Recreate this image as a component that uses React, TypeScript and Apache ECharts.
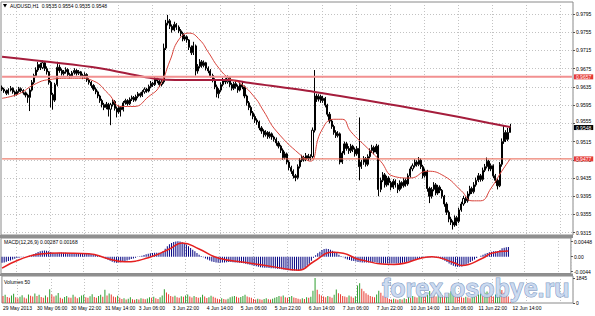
import React, { useEffect, useRef } from 'react';
import * as echarts from 'echarts';

const SYMBOL_TITLE = 'AUDUSD,H1  0.9535 0.9554 0.9535 0.9548';
const MACD_TITLE = 'MACD(12,26,9) 0.00287 0.00168';
const VOLUME_TITLE = 'Volumes 50';
const WATERMARK = 'forex.osobye.ru';

const TIME_LABELS = [
  '29 May 2013', '30 May 06:00', '30 May 22:00', '31 May 14:00', '3 Jun 06:00', '3 Jun 22:00',
  '4 Jun 14:00', '5 Jun 06:00', '5 Jun 22:00', '6 Jun 14:00', '7 Jun 06:00', '7 Jun 22:00',
  '10 Jun 14:00', '11 Jun 06:00', '11 Jun 22:00', '12 Jun 14:00',
];
const BARS_PER_LABEL = 16;
const SLOT_COUNT = 269;

const PRICE_TICKS = [0.9315, 0.9355, 0.9395, 0.9435, 0.9475, 0.9515, 0.9555, 0.9595, 0.9635, 0.9675, 0.9715, 0.9755, 0.9795];
const LEVELS = [0.9657, 0.9477];
const LAST_PRICE = 0.9548;
const MACD_TICKS = [0.00448, 0, -0.0044];
const MACD_TICK_TEXT = ['0.00448', '0.00', '-0.0044'];
const VOLUME_TICKS = [1845, 0];

// hourly candles, prices in 1e-4 units (9634 = 0.9634)
const OPEN = [
  9634, 9630, 9626, 9621, 9628, 9632, 9624, 9619, 9625, 9631,
  9627, 9622, 9617, 9612, 9628, 9645, 9660, 9672, 9684, 9677,
  9688, 9675, 9668, 9645, 9618, 9606, 9640, 9678, 9671, 9664,
  9668, 9673, 9662, 9659, 9666, 9671, 9665, 9668, 9660, 9657,
  9662, 9650, 9645, 9638, 9630, 9624, 9615, 9605, 9596, 9590,
  9597, 9586, 9596, 9603, 9588, 9580, 9590, 9585, 9600, 9605,
  9598, 9608, 9612, 9606, 9614, 9620, 9616, 9624, 9630, 9626,
  9636, 9643, 9640, 9652, 9648, 9640, 9646, 9720, 9775, 9780,
  9768, 9760, 9772, 9766, 9758, 9752, 9740, 9745, 9738, 9722,
  9710, 9725, 9670, 9680, 9690, 9682, 9688, 9676, 9670, 9660,
  9650, 9635, 9620, 9628, 9640, 9650, 9646, 9655, 9640, 9632,
  9642, 9636, 9628, 9640, 9635, 9615, 9600, 9590, 9578, 9570,
  9562, 9558, 9545, 9538, 9530, 9535, 9526, 9532, 9525, 9520,
  9512, 9505, 9496, 9480, 9488, 9470, 9458, 9450, 9440, 9436,
  9460, 9474, 9480, 9476, 9484, 9478, 9482, 9540, 9615, 9608,
  9614, 9605, 9610, 9595, 9575, 9560, 9548, 9535, 9528, 9532,
  9470, 9490, 9510, 9500, 9495, 9505, 9498, 9488, 9500, 9460,
  9470, 9478, 9465, 9482, 9495, 9502, 9492, 9505, 9410, 9430,
  9442, 9420, 9435, 9425, 9415, 9428, 9420, 9410, 9425, 9418,
  9430, 9422, 9440, 9455, 9462, 9470, 9465, 9474, 9460, 9440,
  9450, 9412, 9395, 9410, 9420, 9402, 9415, 9408, 9395, 9378,
  9360, 9345, 9338, 9332, 9348, 9340, 9365, 9378, 9390, 9385,
  9400, 9412, 9405, 9420, 9430, 9440, 9432, 9452, 9460, 9472,
  9455, 9462, 9440, 9430, 9418, 9465, 9515, 9535, 9520, 9535,
];
const CLOSE = [
  9630, 9626, 9621, 9628, 9632, 9624, 9619, 9625, 9631, 9627,
  9622, 9617, 9612, 9628, 9645, 9660, 9672, 9684, 9677, 9688,
  9675, 9668, 9645, 9618, 9606, 9640, 9678, 9671, 9664, 9668,
  9673, 9662, 9659, 9666, 9671, 9665, 9668, 9660, 9657, 9662,
  9650, 9645, 9638, 9630, 9624, 9615, 9605, 9596, 9590, 9597,
  9586, 9596, 9603, 9588, 9580, 9590, 9585, 9600, 9605, 9598,
  9608, 9612, 9606, 9614, 9620, 9616, 9624, 9630, 9626, 9636,
  9643, 9640, 9652, 9648, 9640, 9646, 9720, 9775, 9780, 9768,
  9760, 9772, 9766, 9758, 9752, 9740, 9745, 9738, 9722, 9710,
  9725, 9670, 9680, 9690, 9682, 9688, 9676, 9670, 9660, 9650,
  9635, 9620, 9628, 9640, 9650, 9646, 9655, 9640, 9632, 9642,
  9636, 9628, 9640, 9635, 9615, 9600, 9590, 9578, 9570, 9562,
  9558, 9545, 9538, 9530, 9535, 9526, 9532, 9525, 9520, 9512,
  9505, 9496, 9480, 9488, 9470, 9458, 9450, 9440, 9436, 9460,
  9474, 9480, 9476, 9484, 9478, 9482, 9540, 9615, 9608, 9614,
  9605, 9610, 9595, 9575, 9560, 9548, 9535, 9528, 9532, 9470,
  9490, 9510, 9500, 9495, 9505, 9498, 9488, 9500, 9460, 9470,
  9478, 9465, 9482, 9495, 9502, 9492, 9505, 9410, 9430, 9442,
  9420, 9435, 9425, 9415, 9428, 9420, 9410, 9425, 9418, 9430,
  9422, 9440, 9455, 9462, 9470, 9465, 9474, 9460, 9440, 9450,
  9412, 9395, 9410, 9420, 9402, 9415, 9408, 9395, 9378, 9360,
  9345, 9338, 9332, 9348, 9340, 9365, 9378, 9390, 9385, 9400,
  9412, 9405, 9420, 9430, 9440, 9432, 9452, 9460, 9472, 9455,
  9462, 9440, 9430, 9418, 9465, 9515, 9535, 9520, 9535, 9548,
];
const HIGH = [
  9638, 9633, 9629, 9632, 9637, 9634, 9627, 9629, 9635, 9634,
  9630, 9625, 9620, 9632, 9650, 9664, 9678, 9690, 9688, 9693,
  9690, 9680, 9670, 9648, 9622, 9644, 9690, 9684, 9675, 9672,
  9678, 9676, 9666, 9670, 9676, 9674, 9672, 9670, 9664, 9667,
  9665, 9654, 9648, 9641, 9634, 9627, 9618, 9609, 9600, 9602,
  9600, 9600, 9608, 9606, 9592, 9594, 9593, 9604, 9609, 9608,
  9612, 9616, 9615, 9618, 9624, 9623, 9628, 9634, 9633, 9640,
  9648, 9646, 9657, 9655, 9651, 9650, 9730, 9782, 9793, 9784,
  9772, 9778, 9775, 9770, 9762, 9756, 9750, 9748, 9740, 9726,
  9734, 9728, 9685, 9696, 9694, 9693, 9690, 9680, 9674, 9664,
  9654, 9640, 9632, 9645, 9655, 9654, 9660, 9658, 9644, 9646,
  9648, 9640, 9645, 9648, 9638, 9618, 9604, 9594, 9582, 9575,
  9566, 9561, 9549, 9542, 9540, 9538, 9537, 9535, 9528, 9524,
  9516, 9508, 9500, 9493, 9491, 9474, 9462, 9454, 9444, 9465,
  9479, 9486, 9484, 9490, 9488, 9487, 9546, 9672, 9620, 9619,
  9618, 9615, 9613, 9598, 9580, 9564, 9552, 9540, 9538, 9535,
  9494, 9515, 9514, 9505, 9510, 9508, 9502, 9505, 9568, 9475,
  9483, 9481, 9487, 9500, 9508, 9506, 9510, 9508, 9436, 9448,
  9446, 9440, 9439, 9429, 9433, 9432, 9424, 9430, 9428, 9435,
  9434, 9445, 9460, 9467, 9476, 9474, 9481, 9478, 9464, 9456,
  9453, 9416, 9415, 9426, 9424, 9420, 9419, 9411, 9398, 9382,
  9364, 9350, 9342, 9353, 9352, 9370, 9383, 9396, 9394, 9406,
  9418, 9416, 9426, 9436, 9446, 9444, 9458, 9466, 9480, 9475,
  9467, 9465, 9444, 9434, 9470, 9522, 9550, 9540, 9545, 9554,
];
const LOW = [
  9626, 9622, 9617, 9618, 9625, 9620, 9614, 9616, 9622, 9623,
  9618, 9612, 9600, 9582, 9625, 9641, 9656, 9668, 9672, 9674,
  9670, 9662, 9640, 9590, 9585, 9602, 9636, 9666, 9660, 9660,
  9664, 9658, 9654, 9656, 9662, 9660, 9661, 9656, 9652, 9653,
  9646, 9640, 9633, 9626, 9619, 9610, 9600, 9590, 9584, 9586,
  9570, 9551, 9592, 9583, 9568, 9576, 9570, 9581, 9596, 9594,
  9595, 9604, 9602, 9603, 9610, 9612, 9613, 9620, 9622, 9623,
  9632, 9635, 9637, 9643, 9635, 9636, 9642, 9716, 9770, 9762,
  9754, 9757, 9760, 9753, 9746, 9735, 9736, 9732, 9716, 9705,
  9705, 9660, 9664, 9676, 9677, 9678, 9671, 9665, 9655, 9645,
  9630, 9612, 9610, 9624, 9636, 9641, 9642, 9635, 9627, 9628,
  9631, 9622, 9625, 9630, 9610, 9594, 9584, 9572, 9564, 9556,
  9552, 9540, 9532, 9524, 9526, 9521, 9522, 9519, 9515, 9506,
  9500, 9490, 9475, 9476, 9465, 9452, 9444, 9434, 9428, 9432,
  9456, 9470, 9471, 9472, 9473, 9474, 9478, 9535, 9602, 9603,
  9600, 9600, 9590, 9570, 9555, 9543, 9530, 9523, 9524, 9465,
  9466, 9486, 9495, 9488, 9490, 9492, 9482, 9484, 9430, 9455,
  9464, 9460, 9461, 9478, 9490, 9487, 9488, 9395, 9404, 9426,
  9414, 9416, 9419, 9408, 9411, 9414, 9402, 9406, 9412, 9414,
  9416, 9418, 9436, 9450, 9458, 9460, 9461, 9455, 9434, 9436,
  9405, 9380, 9390, 9406, 9397, 9398, 9402, 9390, 9372, 9354,
  9338, 9332, 9322, 9328, 9330, 9336, 9361, 9374, 9380, 9381,
  9396, 9400, 9401, 9416, 9426, 9427, 9428, 9448, 9456, 9450,
  9450, 9435, 9424, 9410, 9415, 9460, 9510, 9514, 9516, 9535,
];

// moving averages: [bar index, price in 1e-4 units]
const MA_SLOW = [
  [0, 9701], [46, 9676], [74, 9652], [93, 9650], [107, 9650], [116, 9644],
  [147, 9624], [187, 9593], [215, 9569], [229, 9556], [239, 9547],
];
const MA_FAST = [
  [0, 9610], [8, 9620], [15, 9640], [22, 9651], [32, 9654], [36, 9654], [43, 9648],
  [50, 9620], [56, 9592], [62, 9592], [69, 9614], [74, 9636], [79, 9693], [83, 9738],
  [88, 9753], [93, 9738], [97, 9711], [102, 9676], [107, 9653], [112, 9643], [119, 9611],
  [123, 9582], [129, 9538], [142, 9479], [145, 9472], [150, 9537], [156, 9564], [160, 9564],
  [164, 9537], [172, 9500], [178, 9472], [184, 9439], [192, 9435], [200, 9450], [208, 9439],
  [216, 9407], [221, 9385], [225, 9385], [230, 9413], [235, 9450], [239, 9477],
];

// MACD main histogram, 1e-5 units
const MACD_MAIN = [
  -180, -170, -150, -130, -110, -80, -60, -40, -30, -20,
  -10, 0, 10, 30, 50, 80, 110, 140, 160, 175,
  185, 180, 165, 140, 115, 100, 110, 120, 125, 120,
  115, 110, 110, 105, 100, 105, 110, 108, 105, 100,
  95, 90, 80, 70, 55, 40, 20, 0, -30, -60,
  -90, -120, -150, -170, -180, -175, -165, -150, -130, -110,
  -90, -70, -50, -30, -10, 10, 30, 50, 70, 90,
  100, 110, 120, 120, 115, 110, 160, 240, 310, 370,
  410, 440, 455, 460, 450, 430, 400, 360, 310, 260,
  210, 160, 110, 60, 20, -20, -50, -80, -110, -140,
  -160, -175, -180, -180, -175, -170, -165, -160, -160, -165,
  -170, -175, -180, -185, -195, -210, -225, -240, -255, -270,
  -285, -300, -310, -320, -325, -330, -335, -340, -345, -350,
  -355, -360, -370, -380, -390, -400, -405, -410, -412, -410,
  -405, -390, -360, -320, -270, -210, -120, -30, 40, 100,
  150, 200, 230, 240, 230, 210, 180, 150, 110, 60,
  20, -20, -50, -80, -100, -120, -130, -140, -155, -165,
  -170, -175, -175, -170, -165, -160, -160, -180, -195, -200,
  -205, -205, -205, -205, -200, -200, -200, -195, -190, -180,
  -170, -160, -145, -125, -105, -85, -65, -50, -40, -30,
  -30, -30, -25, -20, -20, -25, -35, -50, -80, -120,
  -160, -200, -240, -270, -290, -300, -300, -290, -270, -240,
  -200, -160, -120, -80, -40, 0, 30, 60, 90, 110,
  130, 150, 160, 160, 170, 200, 250, 265, 280, 287,
];
// MACD signal line: [bar index, value in 1e-5 units]
const MACD_SIGNAL = [
  [0, -340], [8, -90], [17, 70], [27, 110], [41, 90], [50, -60], [58, -150], [69, -30],
  [79, 230], [85, 410], [93, 230], [102, -40], [116, -180], [129, -310], [140, -400],
  [147, -150], [156, 130], [161, 100], [169, -90], [185, -230], [203, 0], [213, -170],
  [217, -260], [227, -40], [231, 100], [239, 168],
];

const VOLUME = [
  520, 610, 450, 380, 560, 690, 420, 350, 470, 580,
  400, 330, 620, 540, 480, 700, 520, 610, 450, 380,
  560, 430, 1010, 620, 480, 560, 740, 380, 320, 450,
  520, 410, 380, 600, 470, 350, 420, 560, 610, 430,
  380, 500, 640, 450, 390, 520, 600, 470, 980, 560,
  700, 620, 480, 420, 540, 380, 300, 350, 260, 310,
  420, 280, 240, 300, 260, 350, 310, 280, 340, 420,
  380, 460, 350, 300, 420, 560, 1020, 780, 640, 520,
  460, 540, 420, 380, 500, 460, 560, 620, 480, 400,
  520, 450, 380, 430, 600, 480, 360, 420, 540, 460,
  390, 310, 280, 350, 300, 260, 320, 420, 480, 520,
  460, 380, 440, 520, 600, 480, 420, 380, 300, 260,
  320, 280, 240, 300, 350, 280, 260, 320, 380, 450,
  520, 480, 560, 420, 380, 450, 520, 400, 360, 320,
  280, 350, 300, 420, 380, 460, 900, 1845, 980, 640,
  560, 480, 420, 520, 460, 380, 600, 1000, 720, 640,
  520, 480, 420, 560, 480, 380, 500, 1300, 1460, 1050,
  860, 720, 600, 520, 460, 420, 620, 900, 760, 540,
  420, 360, 300, 260, 320, 280, 240, 300, 260, 350,
  300, 420, 380, 520, 460, 400, 560, 640, 520, 450,
  600, 880, 720, 560, 480, 620, 760, 540, 480, 560,
  720, 860, 1120, 700, 560, 480, 420, 380, 460, 400,
  350, 420, 560, 480, 620, 700, 520, 760, 840, 620,
  560, 480, 620, 700, 1020, 960, 760, 560, 480, 50,
];

const FONT = '"Liberation Sans", Arial, sans-serif';
const GRID_LINE = { color: '#c2c2c2', type: [1, 2] as any, width: 1 };
const X_GRID_OFFSET = 7;

function levelSeries(value: number, lineColor: string, width: number, boxColor: string, hideLine = false) {
  return {
    type: 'line',
    xAxisIndex: 0,
    yAxisIndex: 0,
    data: [[0, value], [SLOT_COUNT - 1, value]],
    showSymbol: false,
    silent: true,
    lineStyle: { color: lineColor, width, opacity: hideLine ? 0 : 1 },
    endLabel: {
      show: true,
      distance: 2,
      offset: hideLine ? [0, 1] : [0, 0],
      formatter: () => value.toFixed(4),
      backgroundColor: boxColor,
      color: '#fff',
      fontSize: 5,
      lineHeight: 4,
      fontFamily: FONT,
      padding: [1, 2, 0, 2],
    },
    z: 5,
  };
}

function buildOption() {
  const cats = Array.from({ length: SLOT_COUNT }, (_, i) => String(i));
  const candles = OPEN.map((o, i) => [o / 1e4, CLOSE[i] / 1e4, LOW[i] / 1e4, HIGH[i] / 1e4]);
  const volData = VOLUME.map((v, i) => ({
    value: v,
    itemStyle: { color: i > 0 && v > VOLUME[i - 1] ? '#2f9e2f' : '#e8392f' },
  }));
  const grids = [
    { left: 1, top: 2, width: 572, height: 233 },
    { left: 1, top: 238, width: 572, height: 35.5 },
    { left: 1, top: 276, width: 572, height: 27 },
  ].map((g) => ({ ...g, show: true, borderColor: '#8a8a8a', borderWidth: 1, backgroundColor: '#fff' }));

  const xAxes = [0, 1, 2].map((g) => ({
    type: 'category',
    gridIndex: g,
    data: cats,
    boundaryGap: true,
    axisLine: { show: false },
    axisTick: { show: false },
    axisLabel:
      g === 2
        ? {
            show: true,
            interval: (i: number) => i % BARS_PER_LABEL === 0 && i / BARS_PER_LABEL < TIME_LABELS.length,
            formatter: (_v: string, i: number) => TIME_LABELS[i / BARS_PER_LABEL] ?? '',
            align: 'left',
            fontSize: 5,
            lineHeight: 4,
            fontFamily: FONT,
            color: '#000',
            margin: 3,
          }
        : { show: false },
    splitLine: {
      show: true,
      interval: (i: number) => i % BARS_PER_LABEL === X_GRID_OFFSET,
      lineStyle: GRID_LINE,
    },
  }));

  const labelBase = { fontSize: 5, lineHeight: 4, fontFamily: FONT, color: '#000', margin: 3 };
  const yAxes = [
    {
      type: 'value',
      gridIndex: 0,
      position: 'right',
      min: 0.931,
      max: 0.98213,
      axisLine: { show: false },
      axisTick: { show: true, customValues: PRICE_TICKS, length: 2, lineStyle: { color: '#555' } },
      axisLabel: {
        ...labelBase,
        customValues: PRICE_TICKS,
        // the tick just above the last-price box is nudged up half a line so both stay legible
        formatter: (v: number) => (v > LAST_PRICE && v - LAST_PRICE < 0.001 ? `${v.toFixed(4)}\n` : v.toFixed(4)),
      },
      splitLine: { show: true, lineStyle: GRID_LINE },
    },
    {
      type: 'value',
      gridIndex: 1,
      position: 'right',
      min: -0.004994,
      max: 0.005559,
      axisLine: { show: false },
      axisTick: { show: true, customValues: MACD_TICKS, length: 2, lineStyle: { color: '#555' } },
      axisLabel: {
        ...labelBase,
        customValues: MACD_TICKS,
        formatter: (v: number) => {
          const k = MACD_TICKS.findIndex((t) => Math.abs(t - v) < 1e-7);
          return k >= 0 ? MACD_TICK_TEXT[k] : '';
        },
      },
      splitLine: { show: false },
    },
    {
      type: 'value',
      gridIndex: 2,
      position: 'right',
      min: 0,
      max: 1993,
      axisLine: { show: false },
      axisTick: { show: true, customValues: VOLUME_TICKS, length: 2, lineStyle: { color: '#555' } },
      axisLabel: { ...labelBase, customValues: VOLUME_TICKS, formatter: (v: number) => String(v) },
      splitLine: { show: false },
    },
  ];

  return {
    animation: false,
    backgroundColor: '#ffffff',
    textStyle: { fontFamily: FONT },
    grid: grids,
    xAxis: xAxes,
    yAxis: yAxes,
    series: [
      levelSeries(LEVELS[0], '#f29090', 2, '#e53935'),
      levelSeries(LEVELS[1], '#e8604c', 1, '#e53935'),
      {
        type: 'candlestick',
        xAxisIndex: 0,
        yAxisIndex: 0,
        data: candles,
        barWidth: 1.6,
        itemStyle: { color: '#ffffff', color0: '#000000', borderColor: '#000', borderColor0: '#000', borderWidth: 1 },
        z: 3,
      },
      {
        type: 'line',
        xAxisIndex: 0,
        yAxisIndex: 0,
        data: MA_SLOW.map(([i, v]) => [i, v / 1e4]),
        showSymbol: false,
        smooth: 0.3,
        lineStyle: { color: '#a51d3c', width: 2 },
        z: 4,
      },
      {
        type: 'line',
        xAxisIndex: 0,
        yAxisIndex: 0,
        data: MA_FAST.map(([i, v]) => [i, v / 1e4]),
        showSymbol: false,
        smooth: 0.5,
        lineStyle: { color: '#d8443c', width: 1 },
        z: 4,
      },
      levelSeries(LAST_PRICE, '#000', 0, '#000000', true),
      {
        type: 'bar',
        xAxisIndex: 1,
        yAxisIndex: 1,
        data: MACD_MAIN.map((v) => v / 1e5),
        barWidth: 1,
        itemStyle: { color: '#000080' },
      },
      {
        type: 'line',
        xAxisIndex: 1,
        yAxisIndex: 1,
        data: MACD_SIGNAL.map(([i, v]) => [i, v / 1e5]),
        showSymbol: false,
        smooth: 0.5,
        lineStyle: { color: '#e52020', width: 1.5 },
        z: 3,
      },
      {
        type: 'bar',
        xAxisIndex: 2,
        yAxisIndex: 2,
        data: volData,
        barWidth: 1,
      },
    ],
    graphic: [
      { type: 'rect', shape: { x: 0, y: 235, width: 573, height: 3 }, style: { fill: '#8f8f8f' }, z: 10 },
      { type: 'rect', shape: { x: 0, y: 273.5, width: 573, height: 2.5 }, style: { fill: '#8f8f8f' }, z: 10 },
      { type: 'polygon', shape: { points: [[3, 4], [7, 4], [5, 7.5]] }, style: { fill: '#000' }, z: 10 },
      {
        type: 'text', x: 10, y: 6, z: 10,
        style: { text: SYMBOL_TITLE, font: `5px ${FONT}`, fill: '#000', textVerticalAlign: 'middle' },
      },
      {
        type: 'text', x: 4, y: 242, z: 10,
        style: { text: MACD_TITLE, font: `5px ${FONT}`, fill: '#000', textVerticalAlign: 'middle' },
      },
      {
        type: 'text', x: 4, y: 282, z: 10,
        style: { text: VOLUME_TITLE, font: `5px ${FONT}`, fill: '#000', textVerticalAlign: 'middle' },
      },
      {
        type: 'text', x: 382, y: 288, z: 20,
        style: {
          text: WATERMARK,
          font: `bold 25px "Liberation Sans", Arial, sans-serif`,
          fill: '#c6d6ee',
          stroke: '#6f8dba',
          lineWidth: 1,
          opacity: 0.9,
          textVerticalAlign: 'middle',
        },
      },
    ],
  };
}

export default function App() {
  const ref = useRef<HTMLDivElement>(null);
  useEffect(() => {
    if (!ref.current) return;
    document.body.style.margin = '0';
    const chart = echarts.init(ref.current, undefined, { renderer: 'svg' });
    chart.setOption(buildOption() as any);
    return () => chart.dispose();
  }, []);
  return (
    <div
      ref={ref}
      style={{ position: 'fixed', left: 0, top: 0, width: 595, height: 316, background: '#fff' }}
    />
  );
}
